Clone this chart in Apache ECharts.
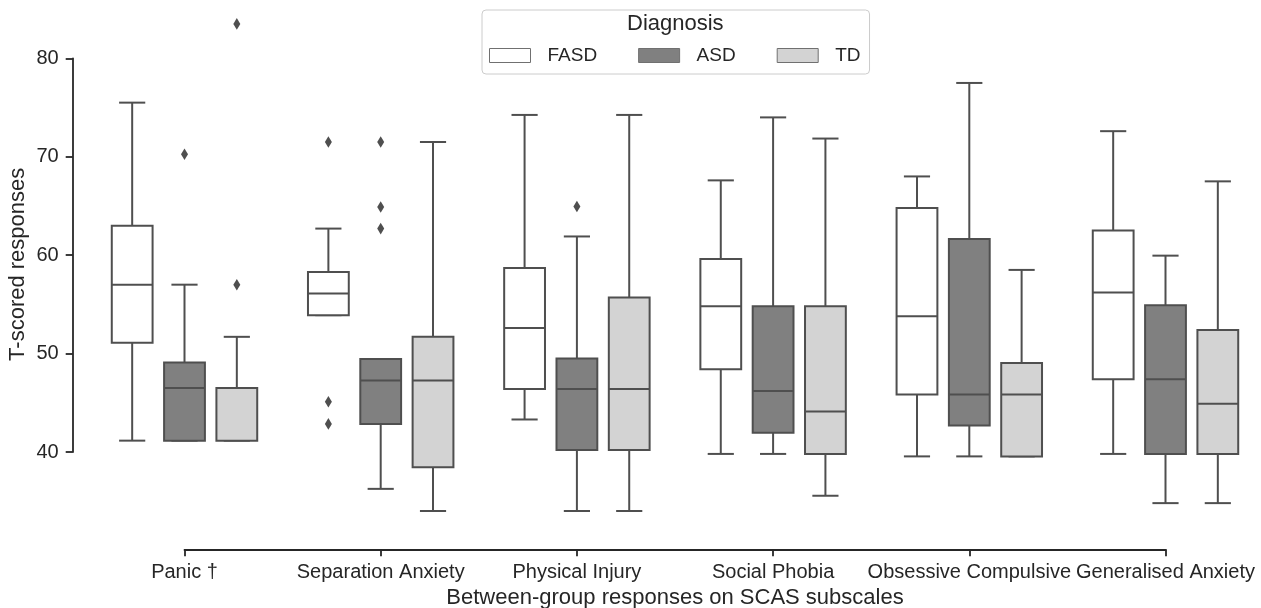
<!DOCTYPE html>
<html>
<head>
<meta charset="utf-8">
<script src="https://cdn.jsdelivr.net/npm/echarts@6/dist/echarts.min.js"></script>
<style>
  html, body { margin: 0; padding: 0; background: #fff; }
  #chart { width: 1261px; height: 608px; }
</style>
</head>
<body>
<div id="chart"></div>
<script>
// subscales on the x axis
const categories = ['Panic †', 'Separation Anxiety', 'Physical Injury', 'Social Phobia', 'Obsessive Compulsive', 'Generalised Anxiety'];
const groups = ['FASD', 'ASD', 'TD'];
const yTicks = [40, 50, 60, 70, 80];

// [min, Q1, median, Q3, max] for each subscale
const fasdBoxes = [
  [41.15, 51.1, 57.0, 63.0, 75.5],
  [53.9, 53.9, 56.1, 58.3, 62.7],
  [43.3, 46.4, 52.6, 58.7, 74.25],
  [39.8, 48.4, 54.8, 59.6, 67.6],
  [39.55, 45.85, 53.8, 64.8, 68.0],
  [39.8, 47.4, 56.2, 62.5, 72.6]
];
const asdBoxes = [
  [41.15, 41.15, 46.5, 49.1, 57.0],
  [36.25, 42.85, 47.25, 49.45, 49.45],
  [34.0, 40.2, 46.4, 49.5, 61.9],
  [39.8, 41.95, 46.2, 54.8, 74.0],
  [39.55, 42.7, 45.85, 61.65, 77.5],
  [34.8, 39.8, 47.4, 54.9, 59.95]
];
const tdBoxes = [
  [41.15, 41.15, 46.5, 46.5, 51.7],
  [34.0, 38.45, 47.25, 51.7, 71.5],
  [34.0, 40.2, 46.4, 55.7, 74.25],
  [35.55, 39.8, 44.1, 54.8, 71.85],
  [39.55, 39.55, 45.85, 49.05, 58.5],
  [34.8, 39.8, 44.9, 52.4, 67.5]
];

// [subscale index, value]
const fasdOutliers = [[1, 71.5], [1, 45.1], [1, 42.85]];
const asdOutliers = [[0, 70.25], [1, 71.5], [1, 64.9], [1, 62.7], [2, 64.95]];
const tdOutliers = [[0, 83.5], [0, 57.0]];

const fillColors = ['#ffffff', '#808080', '#d3d3d3'];
const edgeColor = '#4f4f4f';
const textColor = '#262626';
const font = "'Liberation Sans', Arial, sans-serif";

// seaborn style dodge: 3 boxes inside 80% of the band
function slotOffset(api, gi) {
  const band = api.size([1, 0])[0];
  const slot = band * 0.8 / 3;
  return { slot: slot, dx: slot * (gi - 1) };
}

function boxSeries(gi, boxes) {
  const color = fillColors[gi];
  return {
    type: 'custom',
    name: groups[gi],
    xAxisIndex: 0,
    yAxisIndex: 0,
    itemStyle: { color: color },
    data: boxes.map((b, i) => [i].concat(b)),
    encode: { x: 0, y: [1, 2, 3, 4, 5] },
    renderItem: function (params, api) {
      const ci = api.value(0);
      const s = slotOffset(api, gi);
      const cx = api.coord([ci, 0])[0] + s.dx;
      const y = k => api.coord([ci, api.value(k)])[1];
      const yMin = y(1), yQ1 = y(2), yMed = y(3), yQ3 = y(4), yMax = y(5);
      const bw = s.slot * 0.78;
      const cw = s.slot * 0.5;
      const ls = { stroke: edgeColor, lineWidth: 2 };
      return {
        type: 'group',
        children: [
          { type: 'line', shape: { x1: cx, y1: yQ1, x2: cx, y2: yMin }, style: ls },
          { type: 'line', shape: { x1: cx, y1: yQ3, x2: cx, y2: yMax }, style: ls },
          { type: 'line', shape: { x1: cx - cw / 2, y1: yMin, x2: cx + cw / 2, y2: yMin }, style: ls },
          { type: 'line', shape: { x1: cx - cw / 2, y1: yMax, x2: cx + cw / 2, y2: yMax }, style: ls },
          { type: 'rect', shape: { x: cx - bw / 2, y: yQ3, width: bw, height: yQ1 - yQ3 },
            style: { fill: color, stroke: edgeColor, lineWidth: 2 } },
          { type: 'line', shape: { x1: cx - bw / 2, y1: yMed, x2: cx + bw / 2, y2: yMed }, style: ls }
        ]
      };
    }
  };
}

function outlierSeries(gi, points) {
  return {
    type: 'custom',
    name: groups[gi],
    xAxisIndex: 0,
    yAxisIndex: 0,
    data: points,
    encode: { x: 0, y: 1 },
    renderItem: function (params, api) {
      const ci = api.value(0);
      const s = slotOffset(api, gi);
      const p = api.coord([ci, api.value(1)]);
      const cx = p[0] + s.dx, cy = p[1];
      return {
        type: 'polygon',
        shape: { points: [[cx, cy - 5.8], [cx + 3.5, cy], [cx, cy + 5.8], [cx - 3.5, cy]] },
        style: { fill: edgeColor }
      };
    }
  };
}

const chart = echarts.init(document.getElementById('chart'));

const axisLineStyle = { color: textColor, width: 1.8 };

const option = {
  animation: false,
  textStyle: { fontFamily: font },
  title: {
    text: 'Diagnosis',
    left: 627,
    top: 13,
    padding: 0,
    textStyle: { fontSize: 22, fontWeight: 'normal', color: textColor, fontFamily: font }
  },
  legend: {
    left: 482,
    top: 10,
    padding: [36, 9, 9, 7],
    itemWidth: 41,
    itemHeight: 14,
    itemGap: 41,
    borderColor: '#cccccc',
    borderWidth: 1,
    borderRadius: 4,
    selectedMode: false,
    textStyle: { fontSize: 19, color: textColor, padding: [0, 0, 0, 12], fontFamily: font },
    data: groups.map((g, i) => ({
      name: g,
      icon: 'rect',
      itemStyle: { color: fillColors[i], borderColor: '#707070', borderWidth: 1 }
    }))
  },
  grid: [
    { left: 86.4, top: 0, width: 1177.2, height: 535.6, outerBoundsMode: 'none' },
    { left: 86.4, top: 58.4, width: 1177.2, height: 393.6, outerBoundsMode: 'none' },
    { left: 184.5, top: 0, width: 981, height: 535.6, outerBoundsMode: 'none' }
  ],
  xAxis: [
    { gridIndex: 0, type: 'category', data: categories, show: false },
    { gridIndex: 1, type: 'category', data: categories, show: false },
    {
      gridIndex: 2, type: 'category', data: categories, boundaryGap: false, offset: 13.7,
      axisLine: { show: true, onZero: false, lineStyle: axisLineStyle },
      axisTick: { show: true, length: 7, lineStyle: axisLineStyle },
      axisLabel: { interval: 0, hideOverlap: false, showMinLabel: true, showMaxLabel: true,
        fontSize: 20, color: textColor, margin: 13, fontFamily: font },
      splitLine: { show: false },
      name: 'Between-group responses on SCAS subscales',
      nameLocation: 'middle',
      nameGap: 37,
      nameTextStyle: { fontSize: 22, color: textColor, fontFamily: font }
    }
  ],
  yAxis: [
    {
      gridIndex: 0, type: 'value', min: 31.5, max: 85.93, offset: 13.7,
      axisLine: { show: false }, axisTick: { show: false }, axisLabel: { show: false },
      splitLine: { show: false },
      name: 'T-scored responses',
      nameLocation: 'middle',
      nameGap: 44,
      nameTextStyle: { fontSize: 22, color: textColor, fontFamily: font, padding: [0, 0, 0, 7] }
    },
    {
      gridIndex: 1, type: 'value', min: yTicks[0], max: yTicks[yTicks.length - 1], interval: 10, offset: 13.7,
      axisLine: { show: true, lineStyle: axisLineStyle },
      axisTick: { show: true, length: 7, lineStyle: axisLineStyle },
      axisLabel: { fontSize: 20, color: textColor, margin: 14, fontFamily: font },
      splitLine: { show: false }
    },
    { gridIndex: 2, type: 'value', show: false, splitLine: { show: false } }
  ],
  series: [
    boxSeries(0, fasdBoxes),
    boxSeries(1, asdBoxes),
    boxSeries(2, tdBoxes),
    outlierSeries(0, fasdOutliers),
    outlierSeries(1, asdOutliers),
    outlierSeries(2, tdOutliers)
  ]
};

chart.setOption(option);
</script>
</body>
</html>
